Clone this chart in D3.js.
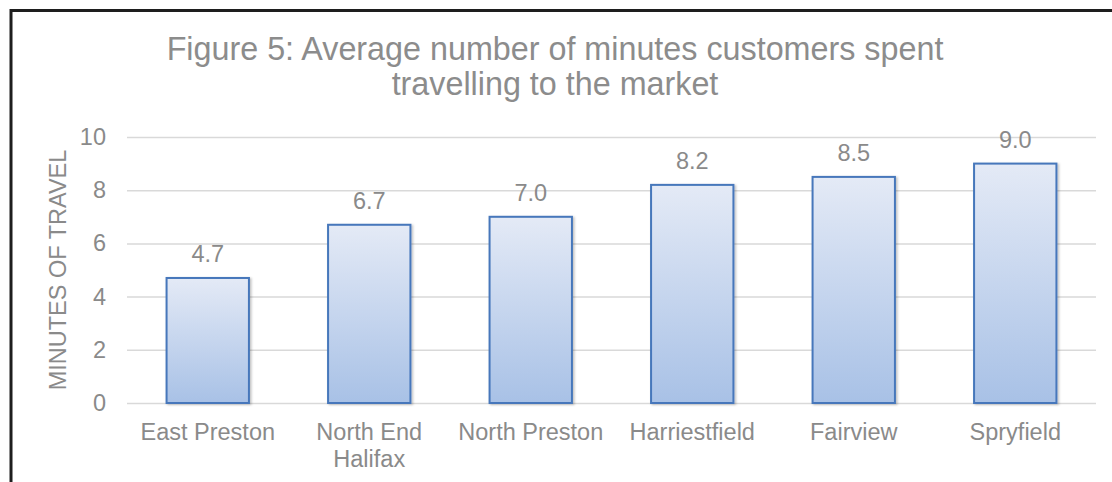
<!DOCTYPE html>
<html>
<head>
<meta charset="utf-8">
<script src="https://cdn.jsdelivr.net/npm/d3@7"></script>
<style>
  html, body { margin: 0; padding: 0; background: #fff; }
  svg { display: block; font-family: "Liberation Sans", Arial, sans-serif; }
</style>
</head>
<body>
<svg id="chart" width="1112" height="482"></svg>
<script>
const categories = ["East Preston", "North End\nHalifax", "North Preston", "Harriestfield", "Fairview", "Spryfield"];
const values = [4.7, 6.7, 7.0, 8.2, 8.5, 9.0];
const yTicks = [0, 2, 4, 6, 8, 10];
const titleLines = ["Figure 5: Average number of minutes customers spent", "travelling to the market"];
const yAxisTitle = "MINUTES OF TRAVEL";

const svg = d3.select("#chart");
const margin = { left: 127, right: 16, top: 137, bottom: 79 };
const W = 1112, H = 482;
const x = d3.scaleBand().domain(categories).range([margin.left, W - margin.right]).paddingInner(0.49).paddingOuter(0.245);
const y = d3.scaleLinear().domain([0, 10]).range([H - margin.bottom, margin.top]);

const defs = svg.append("defs");
const grad = defs.append("linearGradient").attr("id", "barGrad").attr("x1", 0).attr("y1", 0).attr("x2", 0).attr("y2", 1);
grad.append("stop").attr("offset", "0%").attr("stop-color", "#e4eaf6");
grad.append("stop").attr("offset", "100%").attr("stop-color", "#a8c1e6");
const filt = defs.append("filter").attr("id", "shadow").attr("x", "-10%").attr("y", "-10%").attr("width", "130%").attr("height", "130%");
filt.append("feDropShadow").attr("dx", 1.5).attr("dy", 1).attr("stdDeviation", 1.2).attr("flood-color", "#000").attr("flood-opacity", 0.25);

// frame
svg.append("path").attr("d", `M11,${H} V10.5 H${W}`).attr("fill", "none").attr("stroke", "#1e1e1e").attr("stroke-width", 3);

// gridlines + y tick labels
const yAxis = d3.axisLeft(y).tickValues(yTicks).tickSize(-(W - margin.right - margin.left)).tickPadding(21);
const gy = svg.append("g").attr("transform", `translate(${margin.left},0)`).call(yAxis);
gy.select(".domain").remove();
gy.selectAll(".tick line").attr("stroke", "#d9d9d9").attr("stroke-width", 1.5);
gy.selectAll(".tick text").attr("fill", "#8a8a8a").attr("font-size", 23.5).attr("font-family", "Liberation Sans, Arial, sans-serif");

// bars
svg.append("g").selectAll("rect").data(values).join("rect")
  .attr("x", (d, i) => x(categories[i]))
  .attr("y", d => y(d))
  .attr("width", x.bandwidth())
  .attr("height", d => y(0) - y(d))
  .attr("fill", "url(#barGrad)")
  .attr("stroke", "#4677bb")
  .attr("stroke-width", 2)
  .attr("filter", "url(#shadow)");

// data labels
svg.append("g").selectAll("text").data(values).join("text")
  .attr("x", (d, i) => x(categories[i]) + x.bandwidth() / 2)
  .attr("y", d => y(d) - 16)
  .attr("text-anchor", "middle")
  .attr("font-size", 23.5)
  .attr("fill", "#8a8a8a")
  .text(d => d3.format(".1f")(d));

// category labels
const xAxis = d3.axisBottom(x).tickSize(0).tickFormat("");
const gx = svg.append("g").attr("transform", `translate(0,${y(0)})`).call(xAxis);
gx.select(".domain").remove();
gx.selectAll(".tick").each(function(d) {
  const t = d3.select(this).append("text").attr("fill", "#8a8a8a").attr("font-size", 23.5).attr("text-anchor", "middle");
  d.split("\n").forEach((line, k) => {
    t.append("tspan").attr("x", 0).attr("y", 37 + k * 27).text(line);
  });
});

// y axis title
svg.append("text")
  .attr("transform", `translate(66,${(y(0) + y(10)) / 2}) rotate(-90)`)
  .attr("text-anchor", "middle")
  .attr("font-size", 23.5)
  .attr("fill", "#8a8a8a")
  .text(yAxisTitle);

// title
svg.append("g").selectAll("text").data(titleLines).join("text")
  .attr("x", 555)
  .attr("y", (d, i) => 60 + i * 35)
  .attr("text-anchor", "middle")
  .attr("font-size", 32.3)
  .attr("fill", "#8c8c8c")
  .text(d => d);
</script>
</body>
</html>
